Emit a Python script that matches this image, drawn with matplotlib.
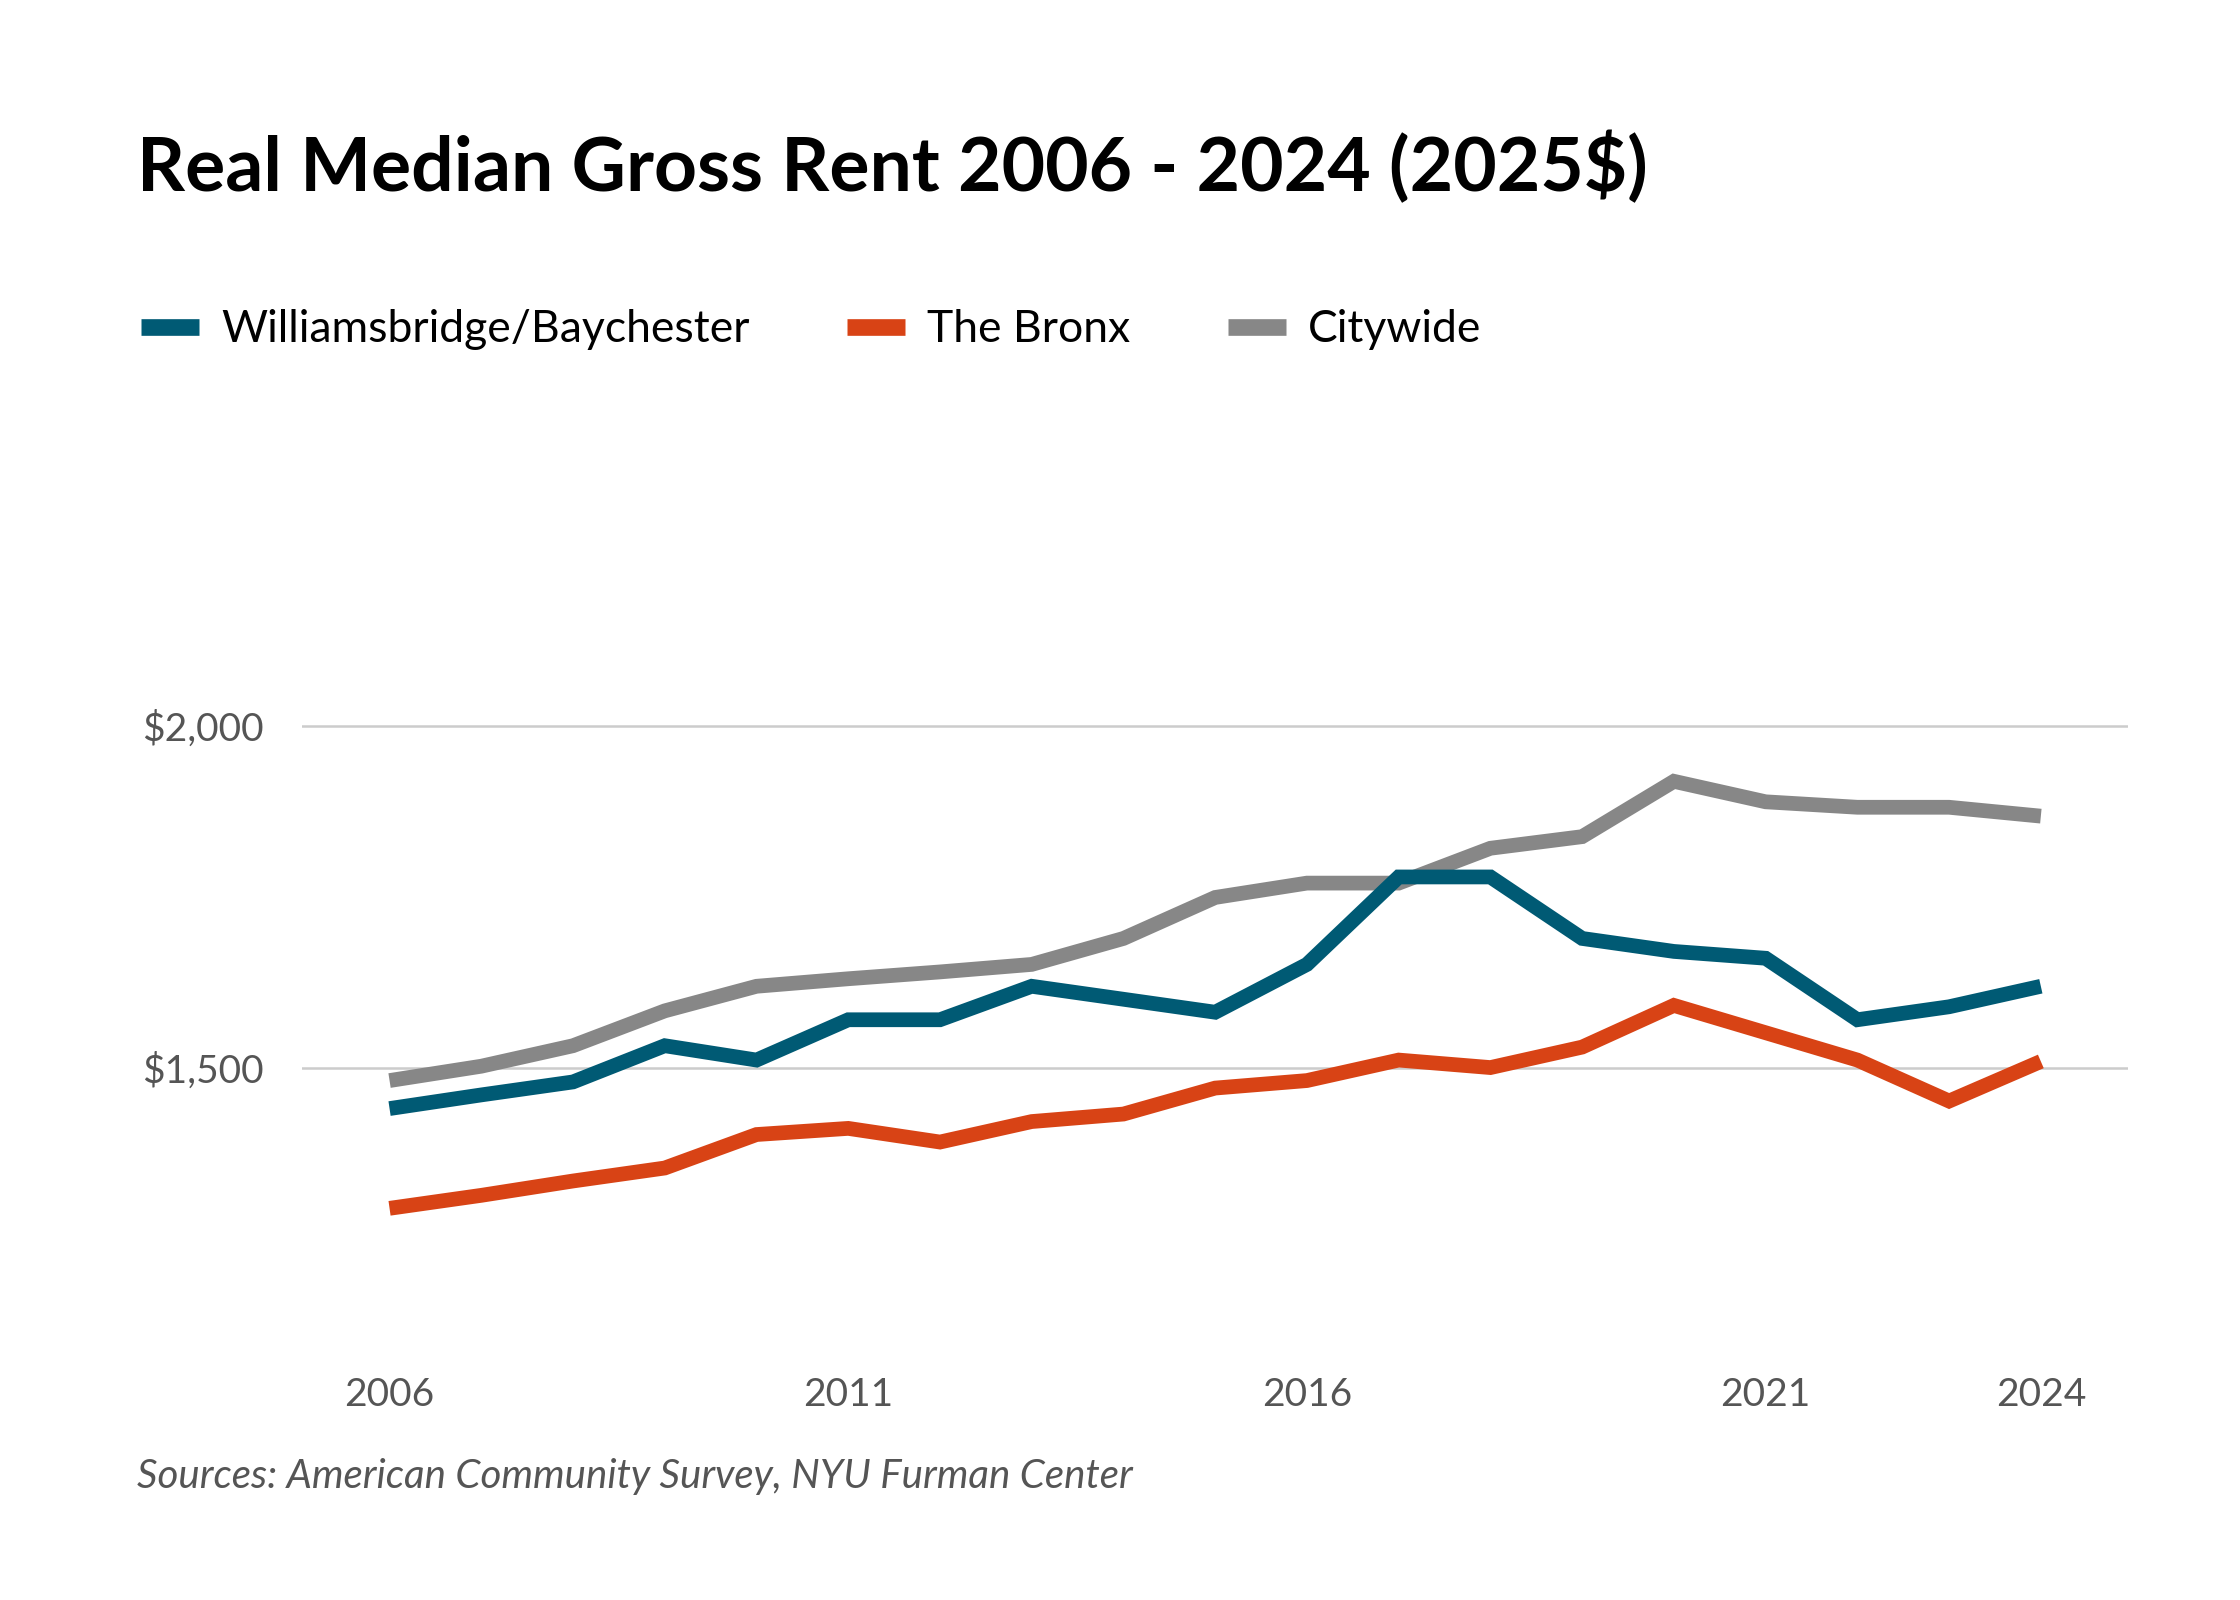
import matplotlib
matplotlib.use("Agg")
import matplotlib.pyplot as plt
from matplotlib.lines import Line2D

years = list(range(2006, 2025))
williamsbridge = [1440, 1460, 1479, 1532, 1511, 1570, 1570, 1619, 1600, 1581,
                  1651, 1779, 1779, 1689, 1670, 1660, 1570, 1589, 1619]
bronx = [1294, 1313, 1334, 1353, 1402, 1411, 1391, 1421, 1432, 1470,
         1481, 1511, 1500, 1530, 1591, 1551, 1511, 1451, 1509]
citywide = [1481, 1502, 1532, 1583, 1619, 1630, 1640, 1651, 1689, 1749,
            1770, 1770, 1821, 1838, 1919, 1889, 1881, 1881, 1868]
series_names = ["Williamsbridge/Baychester", "The Bronx", "Citywide"]
colors = ["#005a74", "#d84315", "#878787"]
x_ticks = [2006, 2011, 2016, 2021, 2024]
y_ticks = [1500, 2000]
y_tick_labels = ["$1,500", "$2,000"]

plt.rcParams['font.family'] = ['Lato', 'DejaVu Sans']

fig = plt.figure(figsize=(11.2, 8), dpi=200)
ax = fig.add_axes([0.135, 0.15, 0.815, 0.55])

data = [williamsbridge, bronx, citywide]
for idx in [2, 0, 1]:
    ax.plot(years, data[idx], color=colors[idx], lw=5.3,
            solid_capstyle='butt', solid_joinstyle='miter', zorder=3)

ax.set_xlim(2005.05, 2024.95)
ax.set_ylim(1072, 2360)
ax.set_yticks(y_ticks)
ax.set_yticklabels(y_tick_labels)
ax.set_xticks(x_ticks)
ax.set_xticklabels([str(y) for y in x_ticks])
ax.grid(axis='y', color='#cccccc', lw=0.9, zorder=0)
ax.grid(axis='x', visible=False)
for s in ax.spines.values():
    s.set_visible(False)
ax.tick_params(axis='both', length=0, labelsize=14, labelcolor='#555555')
ax.tick_params(axis='y', pad=14)
ax.tick_params(axis='x', pad=6)

fig.text(0.061, 0.895, "Real Median Gross Rent 2006 - 2024 (2025$)",
         fontsize=27, fontweight='bold', color='#000000', va='center', ha='left')

handles = [Line2D([0], [0], color=c, lw=6, solid_capstyle='butt') for c in colors]
fig.legend(handles, series_names, loc='center left', bbox_to_anchor=(0.057, 0.794),
           ncol=3, frameon=False, fontsize=16, handlelength=1.3, handletextpad=0.5,
           columnspacing=2.2, borderaxespad=0, borderpad=0.3)

fig.text(0.061, 0.077, "Sources: American Community Survey, NYU Furman Center",
         fontsize=14.5, style='italic', color='#555555', va='center', ha='left')

fig.savefig("out.png", dpi=200, facecolor='white')
